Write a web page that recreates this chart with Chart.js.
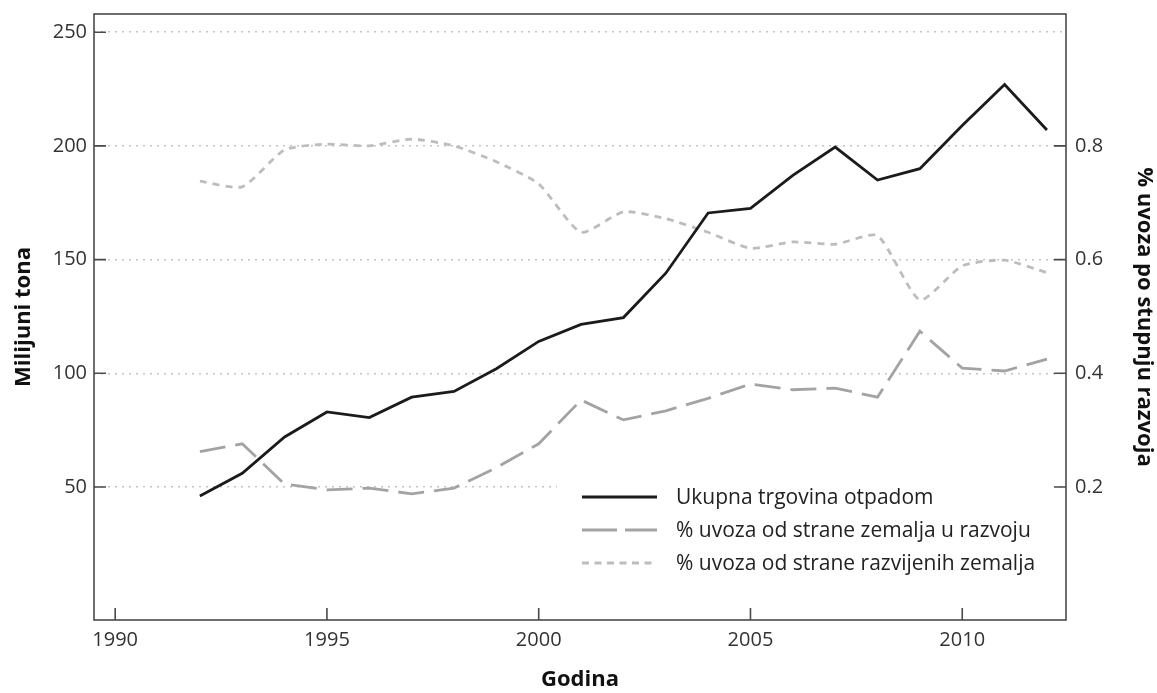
<!DOCTYPE html>
<html>
<head>
<meta charset="utf-8">
<script src="https://cdn.jsdelivr.net/npm/chart.js@4.4.1/dist/chart.umd.min.js"></script>
<style>
  html, body { margin: 0; padding: 0; background: #fff; }
  #wrap { width: 1157px; height: 693px; position: relative; }
</style>
</head>
<body>
<div id="wrap"><canvas id="chart"></canvas></div>
<script>
const years = [1992, 1993, 1994, 1995, 1996, 1997, 1998, 1999, 2000, 2001, 2002,
  2003, 2004, 2005, 2006, 2007, 2008, 2009, 2010, 2011, 2012];

// milijuni tona
const totalTrade = [46, 56, 72, 83, 80.5, 89.5, 92, 102, 114, 121.5, 124.5,
  144, 170.5, 172.5, 187, 199.5, 185, 190, 209, 227, 207];

// udio uvoza (desna os)
const developingShare = [0.262, 0.276, 0.205, 0.195, 0.198, 0.188, 0.198, 0.234, 0.276, 0.353, 0.318,
  0.334, 0.356, 0.381, 0.371, 0.374, 0.358, 0.474, 0.409, 0.404, 0.425];
const developedShare = [0.738, 0.728, 0.793, 0.803, 0.8, 0.812, 0.8, 0.772, 0.733, 0.648, 0.684,
  0.672, 0.648, 0.62, 0.631, 0.627, 0.642, 0.529, 0.589, 0.599, 0.577];

const xTicks = [1990, 1995, 2000, 2005, 2010];
const leftTicks = [50, 100, 150, 200, 250];
const rightTicks = [0.2, 0.4, 0.6, 0.8];

const seriesLabels = [
  'Ukupna trgovina otpadom',
  '% uvoza od strane zemalja u razvoju',
  '% uvoza od strane razvijenih zemalja',
];

const FONT = '"Open Sans", "Noto Sans", sans-serif';

function toPoints(values) {
  return years.map((y, i) => ({ x: y, y: values[i] }));
}

function noPad(s) {
  s.paddingTop = 0;
  s.paddingBottom = 0;
  s.paddingLeft = 0;
  s.paddingRight = 0;
}

// unutarnje crtice na osima + okvir
const frameTicks = {
  id: 'frameTicks',
  afterDraw(chart) {
    const { ctx, chartArea: a, scales } = chart;
    ctx.save();
    ctx.strokeStyle = '#4a4a4a';
    ctx.lineWidth = 1.6;
    ctx.strokeRect(a.left, a.top, a.right - a.left, a.bottom - a.top);
    ctx.beginPath();
    xTicks.forEach(v => {
      const px = scales.x.getPixelForValue(v);
      ctx.moveTo(px, a.bottom);
      ctx.lineTo(px, a.bottom - 12);
    });
    leftTicks.forEach(v => {
      const py = scales.y.getPixelForValue(v);
      ctx.moveTo(a.left, py);
      ctx.lineTo(a.left + 12, py);
    });
    rightTicks.forEach(v => {
      const py = scales.y1.getPixelForValue(v);
      ctx.moveTo(a.right, py);
      ctx.lineTo(a.right - 12, py);
    });
    ctx.stroke();
    ctx.restore();
  }
};

const boxLegend = {
  id: 'boxLegend',
  afterDatasetsDraw(chart) {
    const { ctx } = chart;
    const left = 557, top = 470, width = 503, height = 114;
    ctx.save();
    ctx.fillStyle = '#fff';
    ctx.fillRect(left, top, width, height);
    const rows = [497, 530, 563];
    const dashes = [[], [35, 8], [7, 5.5]];
    ctx.font = '21px ' + FONT;
    ctx.textBaseline = 'middle';
    chart.data.datasets.forEach((ds, i) => {
      const y = rows[i];
      ctx.strokeStyle = ds.borderColor;
      ctx.lineWidth = ds.borderWidth;
      ctx.setLineDash(dashes[i]);
      ctx.beginPath();
      ctx.moveTo(582, y);
      ctx.lineTo(657, y);
      ctx.stroke();
      ctx.setLineDash([]);
      ctx.fillStyle = '#222';
      ctx.fillText(ds.label, 676, y + 1);
    });
    ctx.restore();
  }
};

new Chart(document.getElementById('chart'), {
  type: 'line',
  data: {
    datasets: [
      {
        label: seriesLabels[0],
        data: toPoints(totalTrade),
        yAxisID: 'y',
        borderColor: '#1b1b1b',
        borderWidth: 2.8,
        pointRadius: 0,
        tension: 0,
      },
      {
        label: seriesLabels[1],
        data: toPoints(developingShare),
        yAxisID: 'y1',
        borderColor: '#a3a3a3',
        borderWidth: 2.8,
        borderDash: [26, 10],
        pointRadius: 0,
        tension: 0,
      },
      {
        label: seriesLabels[2],
        data: toPoints(developedShare),
        yAxisID: 'y1',
        borderColor: '#bdbdbd',
        borderWidth: 2.8,
        borderDash: [7, 6],
        pointRadius: 0,
        tension: 0.2,
      },
    ],
  },
  options: {
    responsive: true,
    maintainAspectRatio: false,
    animation: false,
    layout: { padding: { top: 14, left: 0, right: 0, bottom: 0 } },
    plugins: {
      legend: { display: false },
      tooltip: { enabled: false },
    },
    scales: {
      x: {
        type: 'linear',
        min: 1989.5,
        max: 2012.45,
        afterBuildTicks: s => { s.ticks = xTicks.map(v => ({ value: v })); },
        afterFit: s => { s.height = 73; noPad(s); },
        grid: { display: false, drawTicks: false },
        border: { display: false },
        ticks: {
          padding: 8,
          maxRotation: 0,
          color: '#333',
          font: { family: FONT, size: 20 },
          callback: v => String(v),
        },
        title: {
          display: true,
          text: 'Godina',
          color: '#111',
          font: { family: FONT, size: 22, weight: 'bold' },
          padding: { top: 10, bottom: 0 },
        },
      },
      y: {
        position: 'left',
        min: -8.5,
        max: 258,
        afterBuildTicks: s => { s.ticks = leftTicks.map(v => ({ value: v })); },
        afterFit: s => { s.width = 94; noPad(s); },
        grid: {
          drawTicks: false,
          color: '#c4c4c4',
          lineWidth: 1.5,
        },
        border: { display: false, dash: [2, 5] },
        ticks: {
          padding: 7,
          color: '#333',
          font: { family: FONT, size: 20 },
        },
        title: {
          display: true,
          text: 'Milijuni tona',
          color: '#111',
          font: { family: FONT, size: 22, weight: 'bold' },
          padding: { top: 11, bottom: 0 },
        },
      },
      y1: {
        position: 'right',
        min: -8.5 / 250,
        max: 258 / 250,
        afterBuildTicks: s => { s.ticks = rightTicks.map(v => ({ value: v })); },
        afterFit: s => { s.width = 91; noPad(s); },
        grid: { display: false, drawTicks: false },
        border: { display: false },
        ticks: {
          padding: 9,
          color: '#333',
          font: { family: FONT, size: 20 },
          callback: v => v.toFixed(1),
        },
        title: {
          display: true,
          text: '% uvoza po stupnju razvoja',
          color: '#111',
          font: { family: FONT, size: 22, weight: 'bold' },
          padding: { top: 0, bottom: 4 },
        },
      },
    },
  },
  plugins: [frameTicks, boxLegend],
});
</script>
</body>
</html>
